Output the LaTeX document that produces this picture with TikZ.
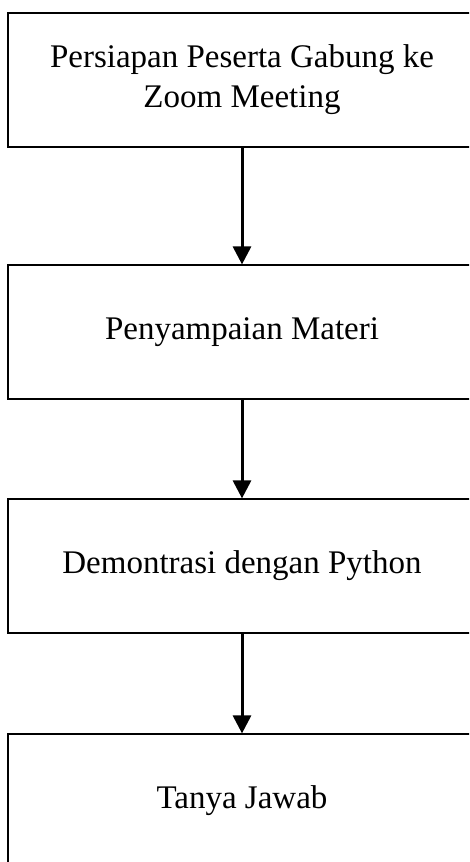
\documentclass[tikz,border=0pt]{standalone}
\usepackage{fontspec}
\setmainfont{Liberation Serif}
\usetikzlibrary{arrows.meta}

\begin{document}
\begin{tikzpicture}[x=1pt,y=-1pt,
    stepbox/.style={draw,line width=1.2pt,minimum width=468pt,minimum height=134pt,
                    inner sep=0pt,align=center,font=\fontsize{33}{40}\selectfont},
    flow/.style={line width=3pt,-{Triangle[width=18pt,length=18pt]}}]
    \useasboundingbox (0,0) rectangle (469,862);
    \clip (0,0) rectangle (469,862);

    \node[stepbox] (persiapan) at (242,80) {Persiapan Peserta Gabung ke\\Zoom Meeting};
    \node[stepbox] (materi) at (242,332) {Penyampaian Materi};
    \node[stepbox] (demo) at (242,566) {Demontrasi dengan Python};
    \node[stepbox] (tanya) at (242,801) {Tanya Jawab};

    \draw[flow] (persiapan) -- (materi);
    \draw[flow] (materi) -- (demo);
    \draw[flow] (demo) -- (tanya);
\end{tikzpicture}
\end{document}
